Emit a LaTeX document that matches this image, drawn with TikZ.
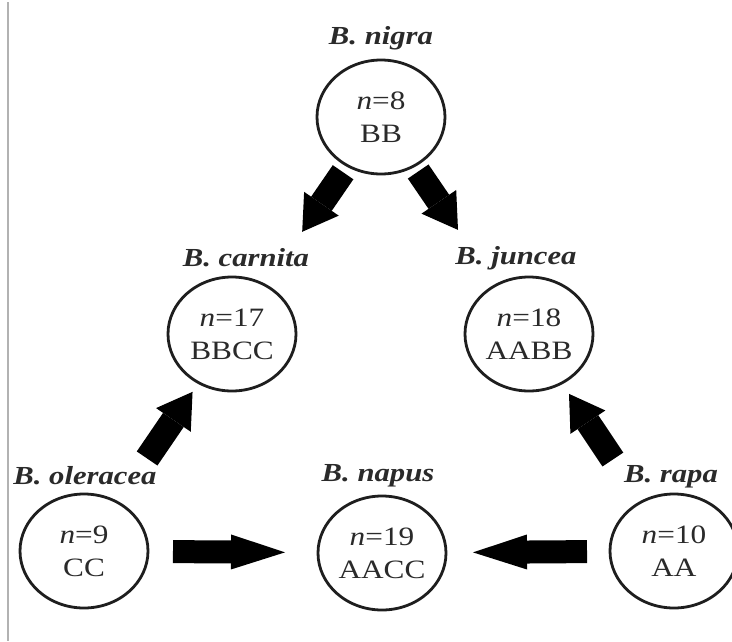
\documentclass[tikz,border=0pt]{standalone}
\usepackage{fontspec}
\setmainfont{Liberation Serif}[FakeStretch=1.18]
\usetikzlibrary{arrows.meta,shapes.geometric}
\definecolor{txt}{HTML}{2a2a2a}
\definecolor{circ}{HTML}{1e1e1e}
\begin{document}
\begin{tikzpicture}[x=1pt,y=-1pt,
  species/.style={ellipse,draw=circ,line width=2.8pt,minimum width=128pt,minimum height=114pt,
    inner sep=0pt,align=center,text=txt,font=\fontsize{26.5}{33}\selectfont},
  spname/.style={inner sep=0pt,text=txt,font=\fontsize{26}{30}\selectfont\bfseries\itshape},
  diagarrow/.style={line width=25pt,black,-{Triangle[length=34pt,width=42pt,line width=0pt]}},
  horizarrow/.style={line width=23pt,black,-{Triangle[length=54pt,width=35pt,line width=0pt]}}]
\useasboundingbox (0,0) rectangle (732,641);
\fill[white] (0,0) rectangle (732,641);
\draw[black!30,line width=1.5pt] (8,2) -- (8,641);

\node[species] (nigra) at (381,117) {\textit{n}=8\\BB};
\node[species] (carnita) at (232,334) {\textit{n}=17\\BBCC};
\node[species] (juncea) at (529,334) {\textit{n}=18\\AABB};
\node[species] (oleracea) at (84,551) {\textit{n}=9\\CC};
\node[species] (napus) at (382,553) {\textit{n}=19\\AACC};
\node[species] (rapa) at (674,551) {\textit{n}=10\\AA};

\node[spname] (lnigra) at (381,38) {B. nigra};
\node[spname] (lcarnita) at (246,258) {B. carnita};
\node[spname] (ljuncea) at (516,258) {B. juncea};
\node[spname] (loleracea) at (85,476) {B. oleracea};
\node[spname] (lnapus) at (378,476) {B. napus};
\node[spname] (lrapa) at (671,477) {B. rapa};

\draw[diagarrow,shorten <=67pt,shorten >=124pt] (nigra.center) -- (carnita.center);
\draw[diagarrow,shorten <=66pt,shorten >=126pt] (nigra.center) -- (juncea.center);
\draw[diagarrow,shorten <=112pt,shorten >=70pt] (oleracea.center) -- (carnita.center);
\draw[diagarrow,shorten <=110pt,shorten >=72pt] (rapa.center) -- (juncea.center);
\draw[horizarrow,shorten <=89pt,shorten >=97pt] (oleracea.center) -- (napus.center);
\draw[horizarrow,shorten <=87pt,shorten >=91pt] (rapa.center) -- (napus.center);
\end{tikzpicture}
\end{document}
